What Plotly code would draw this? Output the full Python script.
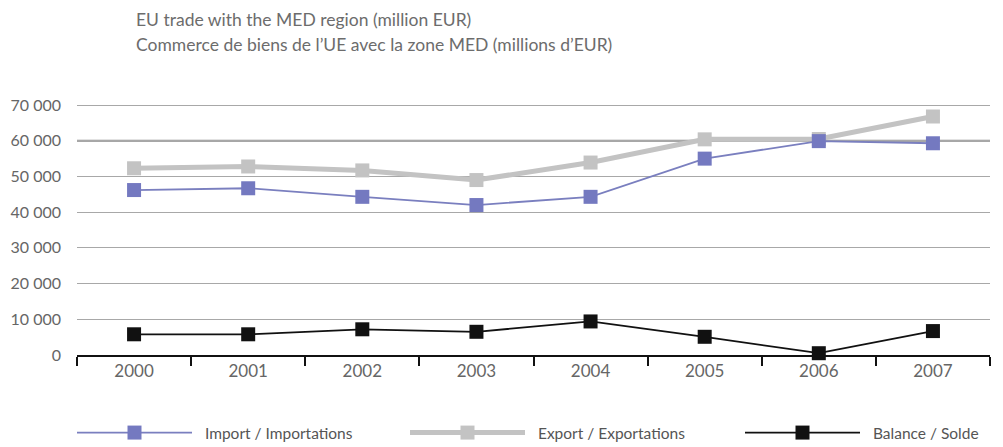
import plotly.graph_objects as go

years = ["2000", "2001", "2002", "2003", "2004", "2005", "2006", "2007"]
imports = [46200, 46700, 44300, 42000, 44300, 55000, 59900, 59300]
exports = [52300, 52800, 51700, 49000, 53900, 60400, 60500, 66800]
balance = [5800, 5800, 7200, 6500, 9400, 5100, 500, 6700]
y_ticks = [0, 10000, 20000, 30000, 40000, 50000, 60000, 70000]
highlight_level = 60000

title_lines = ["EU trade with the MED region (million EUR)",
               "Commerce de biens de l\u2019UE avec la zone MED (millions d\u2019EUR)"]
names = ["Import / Importations", "Export / Exportations", "Balance / Solde"]

FONT = "Lato"
PAD = "\u00a0\u00a0"

fig = go.Figure()
fig.add_trace(go.Scatter(x=years, y=exports, name=PAD + names[1], mode="lines+markers",
                         line=dict(color="#c3c3c3", width=5),
                         marker=dict(symbol="square", size=14, color="#c3c3c3"),
                         cliponaxis=False, legend="legend2"))
fig.add_trace(go.Scatter(x=years, y=imports, name=PAD + names[0], mode="lines+markers",
                         line=dict(color="#7a7fbf", width=1.8),
                         marker=dict(symbol="square", size=14, color="#7479c0"),
                         cliponaxis=False, legend="legend"))
fig.add_trace(go.Scatter(x=years, y=balance, name=PAD + names[2], mode="lines+markers",
                         line=dict(color="#111111", width=1.8),
                         marker=dict(symbol="square", size=14, color="#111111"),
                         cliponaxis=False, legend="legend3"))

fig.add_shape(type="line", xref="paper", x0=0, x1=1, yref="y",
              y0=highlight_level, y1=highlight_level,
              line=dict(color="#8a8a8a", width=2), layer="below")

for txt, ypos in zip(title_lines, [1.335, 1.239]):
    fig.add_annotation(text=txt, xref="paper", yref="paper", x=(134 - 77) / 913, y=ypos,
                       xanchor="left", yanchor="middle", showarrow=False,
                       font=dict(family=FONT, size=17.5, color="#6c6c6c"))

W, H = 1003, 447
legend_common = dict(orientation="h", xref="container", yref="container",
                     xanchor="left", y=(H - 425) / H, yanchor="middle",
                     itemwidth=115, font=dict(family=FONT, size=15.5, color="#555555"),
                     bgcolor="rgba(0,0,0,0)")

fig.update_layout(
    width=W, height=H,
    margin=dict(l=69, r=21, t=96, b=100),
    paper_bgcolor="white", plot_bgcolor="white",
    separators=". ",
    font=dict(family=FONT, color="#666666", size=16),
    showlegend=True,
    legend=dict(x=64 / W, **legend_common),
    legend2=dict(x=397 / W, **legend_common),
    legend3=dict(x=732 / W, **legend_common),
    xaxis=dict(type="category", showgrid=False, showline=True, linecolor="#111111",
               linewidth=2, ticks="outside", tickson="boundaries", ticklen=9,
               tickwidth=1.5, tickcolor="#111111", range=[-0.5, 7.5],
               tickfont=dict(size=17, color="#666666"), zeroline=False,
               automargin=False),
    yaxis=dict(range=[0, 70300], tickvals=y_ticks, tickformat=",d",
               showgrid=True, gridcolor="#a8a8a8", gridwidth=1, zeroline=False,
               showline=False, ticks="", ticklabelstandoff=15, automargin=False,
               tickfont=dict(size=16, color="#666666")),
)

fig.write_html("out.html")
